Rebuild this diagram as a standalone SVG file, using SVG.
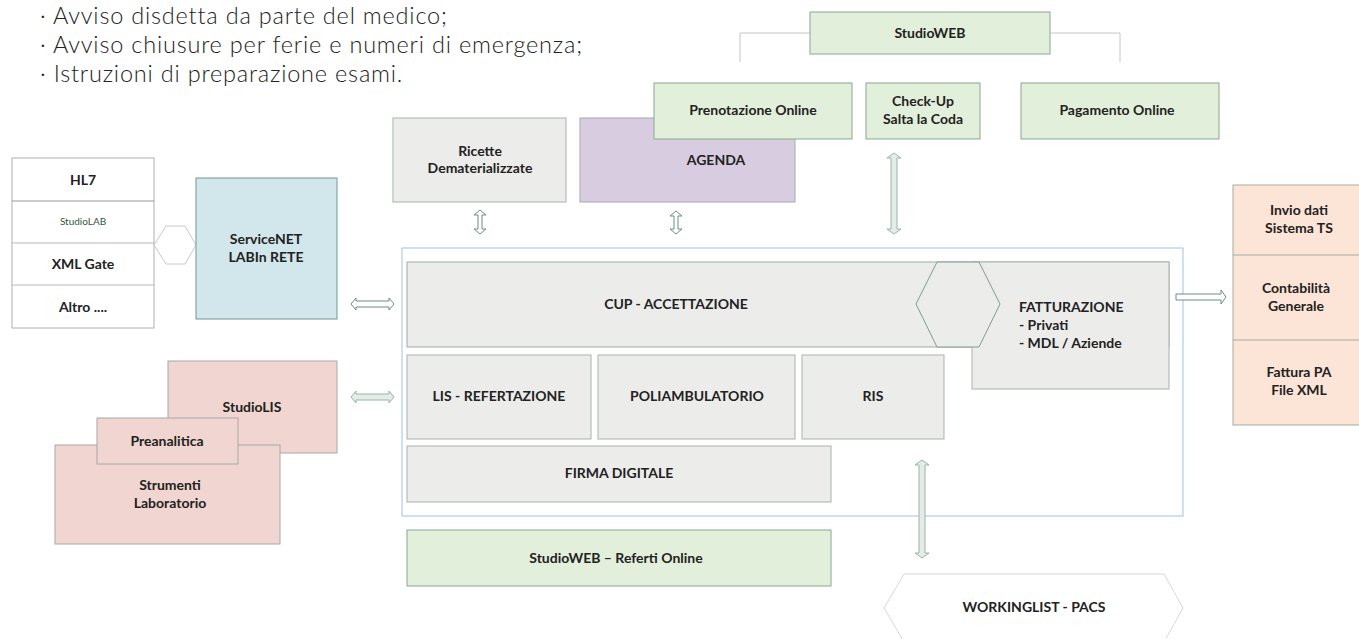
<svg xmlns="http://www.w3.org/2000/svg" width="1359" height="639" viewBox="0 0 1359 639">
<defs>
<style>
text{font-family:Lato,"Open Sans","Liberation Sans",sans-serif;fill:#222;}
.l{font-size:14px;font-weight:700;text-anchor:middle;}
.b{font-family:Lato,"Liberation Sans",sans-serif;font-size:23.5px;font-weight:300;fill:#222;letter-spacing:0.8px;}
.green{fill:#e2efda;stroke:#8aa88f;stroke-width:1;}
.grey{fill:#ececea;stroke:#a8b3ad;stroke-width:1;}
.lav{fill:#d8cde0;stroke:#a8a8a8;stroke-width:1;}
.peach{fill:#fce4d6;stroke:#a3ad9f;stroke-width:1;}
.pink{fill:#f0d5d0;stroke:#a8a8a8;stroke-width:1;}
.blue{fill:#d2e7ec;stroke:#6f9a93;stroke-width:1;}
.white{fill:#fff;stroke:#b0b0b0;stroke-width:1;}
.arr{fill:#fff;stroke:#6f8f80;stroke-width:1;}
.arr2{fill:#e4ece8;stroke:#9cb3a8;stroke-width:1;}
.br{fill:none;stroke:#c4c4c4;stroke-width:1;}
</style>
</defs>

<g id="bullets">
<text class="b" x="40" y="24">· Avviso disdetta da parte del medico;</text>
<text class="b" x="40" y="53">· Avviso chiusure per ferie e numeri di emergenza;</text>
<text class="b" x="40" y="82">· Istruzioni di preparazione esami.</text>
</g>

<g id="studioweb">
<rect class="green" x="810" y="12" width="240" height="42"/>
<text class="l" x="930" y="38">StudioWEB</text>
</g>

<g id="ricette">
<rect class="grey" x="393" y="118" width="173" height="84"/>
<text class="l" x="480" y="156">Ricette</text>
<text class="l" x="480" y="173">Dematerializzate</text>
</g>

<g id="agenda">
<rect class="lav" x="580" y="118" width="215" height="84"/>
<text class="l" x="716" y="165">AGENDA</text>
</g>

<g id="prenotazione">
<rect class="green" x="654" y="83" width="198" height="56"/>
<text class="l" x="753" y="115">Prenotazione Online</text>
</g>

<g id="checkup">
<rect class="green" x="866" y="83" width="114" height="56"/>
<text class="l" x="923" y="106">Check-Up</text>
<text class="l" x="923" y="124">Salta la Coda</text>
</g>

<g id="pagamento">
<rect class="green" x="1021" y="83" width="198" height="56"/>
<text class="l" x="1117" y="115">Pagamento Online</text>
</g>

<g id="container">
<rect x="402" y="248" width="781" height="268" fill="#fff" stroke="#9dc3e6" stroke-width="1"/>
</g>

<g id="cup">
<rect class="grey" x="407" y="262" width="762" height="85" style="stroke:#9aaca2"/>
<text class="l" x="676" y="309">CUP - ACCETTAZIONE</text>
</g>

<g id="fatturazione">
<rect class="grey" x="972" y="262" width="197" height="127"/>
<polygon points="916,304 937,262 979,262 1000,304 979,347 937,347" fill="#ececea" stroke="#7f9d8f" stroke-width="1"/>
<text class="l" x="1019" y="312" style="text-anchor:start">FATTURAZIONE</text>
<text class="l" x="1019" y="330" style="text-anchor:start">- Privati</text>
<text class="l" x="1019" y="348" style="text-anchor:start">- MDL / Aziende</text>
</g>

<g id="lis">
<rect class="grey" x="407" y="355" width="184" height="84"/>
<text class="l" x="499" y="401">LIS - REFERTAZIONE</text>
</g>

<g id="poliambulatorio">
<rect class="grey" x="598" y="355" width="197" height="84"/>
<text class="l" x="697" y="401">POLIAMBULATORIO</text>
</g>

<g id="ris">
<rect class="grey" x="802" y="355" width="142" height="84"/>
<text class="l" x="873" y="401">RIS</text>
</g>

<g id="firma">
<rect class="grey" x="407" y="446" width="424" height="56"/>
<text class="l" x="619" y="478">FIRMA DIGITALE</text>
</g>

<g id="referti">
<rect class="green" x="407" y="530" width="424" height="56"/>
<text class="l" x="616" y="563">StudioWEB – Referti Online</text>
</g>

<g id="workinglist">
<polygon points="884,608 904,574 1164,574 1183,608 1164,642 904,642" fill="#fff" stroke="#d8d8d8" stroke-width="1"/>
<text class="l" x="1034" y="612">WORKINGLIST - PACS</text>
</g>

<g id="right-column">
<rect class="peach" x="1233" y="185" width="130" height="240"/>
<line x1="1233" y1="255" x2="1363" y2="255" stroke="#a3ad9f"/>
<line x1="1233" y1="340" x2="1363" y2="340" stroke="#a3ad9f"/>
<text class="l" x="1299" y="215">Invio dati</text>
<text class="l" x="1299" y="233">Sistema TS</text>
<text class="l" x="1296" y="293">Contabilità</text>
<text class="l" x="1296" y="311">Generale</text>
<text class="l" x="1299" y="377">Fattura PA</text>
<text class="l" x="1299" y="395">File XML</text>
</g>

<g id="left-column">
<rect class="white" x="12" y="158" width="142" height="170"/>
<line x1="12" y1="201" x2="154" y2="201" stroke="#999"/>
<line x1="12" y1="243" x2="154" y2="243" stroke="#b8b8b8"/>
<line x1="12" y1="285" x2="154" y2="285" stroke="#b8b8b8"/>
<text class="l" x="83" y="185">HL7</text>
<text x="83" y="225" style="font-size:10px;text-anchor:middle;fill:#2f5a3a">StudioLAB</text>
<text class="l" x="83" y="269">XML Gate</text>
<text class="l" x="83" y="312">Altro ....</text>
</g>

<g id="hex-small">
<polygon points="154,245 166,226 185,226 196,245 185,264 166,264" fill="#fff" stroke="#c8c8c8" stroke-width="1"/>
</g>

<g id="servicenet">
<rect class="blue" x="196" y="178" width="141" height="141"/>
<text class="l" x="266" y="244">ServiceNET</text>
<text class="l" x="266" y="262">LABIn RETE</text>
</g>

<g id="studiolis">
<rect class="pink" x="168" y="361" width="169" height="92"/>
<text class="l" x="252" y="412">StudioLIS</text>
</g>

<g id="strumenti">
<rect class="pink" x="55" y="445" width="225" height="99"/>
<text class="l" x="170" y="490">Strumenti</text>
<text class="l" x="170" y="508">Laboratorio</text>
</g>

<g id="preanalitica">
<rect class="pink" x="97" y="418" width="141" height="46"/>
<text class="l" x="167" y="446">Preanalitica</text>
</g>

<g id="connectors">
<path class="br" d="M740,62 V33 H810 M1050,33 H1120 V62"/>
<path class="arr" d="M480,210 L486,215 L482,215 L482,229 L486,229 L480,234 L474,229 L478,229 L478,215 L474,215 Z"/>
<path class="arr" d="M676,211 L682,216 L678,216 L678,229 L682,229 L676,234 L670,229 L674,229 L674,216 L670,216 Z"/>
<path class="arr2" d="M894,153 L901,158 L897,158 L897,229 L901,229 L894,234 L887,229 L891,229 L891,158 L887,158 Z"/>
<path class="arr2" d="M922,460 L929,465 L925,465 L925,553 L929,553 L922,558 L915,553 L919,553 L919,465 L915,465 Z"/>
<path class="arr" d="M351,304 L356,298 L356,301 L389,301 L389,298 L394,304 L389,310 L389,307 L356,307 L356,310 Z"/>
<path class="arr2" d="M351,397 L356,391 L356,394 L389,394 L389,391 L394,397 L389,403 L389,400 L356,400 L356,403 Z"/>
<path class="arr" d="M1176,294 L1221,294 L1221,290 L1226,297 L1221,304 L1221,300 L1176,300 Z"/>
</g>
</svg>
